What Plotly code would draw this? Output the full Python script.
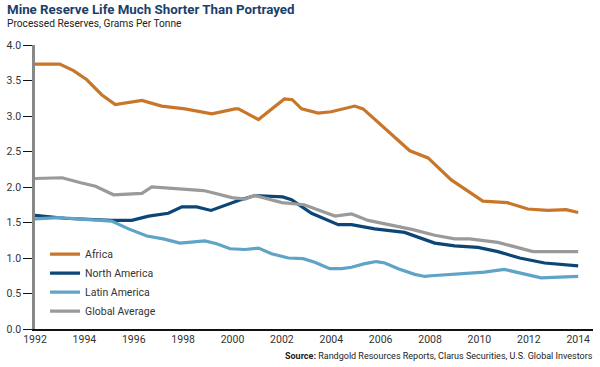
import plotly.graph_objects as go

africa_x = [1992, 1993, 1993.56, 1994.1, 1994.7, 1995.25, 1996.33, 1997.13, 1998.08, 1998.75, 1999.16,
            2000.1, 2000.24, 2001.05, 2002.1, 2002.42, 2002.8, 2003.47, 2004.0, 2004.95, 2005.29,
            2007.18, 2007.92, 2008.86, 2010.14, 2011.13, 2011.96, 2012.77, 2013.51, 2014]
africa_y = [3.73, 3.73, 3.64, 3.51, 3.30, 3.16, 3.22, 3.14, 3.10, 3.05, 3.03,
            3.10, 3.10, 2.95, 3.24, 3.23, 3.10, 3.04, 3.06, 3.14, 3.10,
            2.51, 2.41, 2.10, 1.80, 1.78, 1.69, 1.67, 1.68, 1.64]

na_x = [1992, 1993.2, 1995.1, 1995.92, 1996.6, 1997.4, 1997.95, 1998.55, 1999.13, 1999.6, 2000.24,
        2000.9, 2002.03, 2002.39, 2003.2, 2004.28, 2004.82, 2005.76, 2006.97, 2008.19, 2009.0,
        2009.94, 2010.75, 2011.63, 2012.64, 2014]
na_y = [1.60, 1.56, 1.53, 1.53, 1.59, 1.63, 1.72, 1.72, 1.67, 1.73, 1.81,
        1.88, 1.86, 1.82, 1.63, 1.47, 1.47, 1.41, 1.36, 1.21, 1.17,
        1.15, 1.09, 1.00, 0.93, 0.89]

la_x = [1992, 1992.96, 1995.1, 1995.79, 1996.53, 1997.2, 1997.87, 1998.88, 1999.36, 1999.9, 2000.5,
        2001.05, 2001.58, 2002.26, 2002.86, 2003.33, 2003.94, 2004.42, 2004.82, 2005.36, 2005.83,
        2006.17, 2006.71, 2007.38, 2007.79, 2008.05, 2010.2, 2011.0, 2012.5, 2014]
la_y = [1.55, 1.57, 1.52, 1.41, 1.31, 1.27, 1.21, 1.24, 1.20, 1.13, 1.12,
        1.14, 1.06, 1.00, 0.99, 0.94, 0.85, 0.85, 0.87, 0.92, 0.95,
        0.93, 0.85, 0.77, 0.74, 0.75, 0.80, 0.84, 0.72, 0.74]

ga_x = [1992, 1993.1, 1993.85, 1994.45, 1995.18, 1996.33, 1996.73, 1998.82, 1999.2, 1999.97, 2000.5,
        2000.9, 2002.0, 2002.9, 2004.15, 2004.82, 2005.49, 2006.03, 2007.31, 2008.19, 2009.0,
        2009.6, 2010.75, 2012.17, 2014]
ga_y = [2.12, 2.13, 2.06, 2.01, 1.89, 1.91, 2.00, 1.95, 1.92, 1.85, 1.83,
        1.88, 1.78, 1.75, 1.59, 1.62, 1.53, 1.49, 1.40, 1.32, 1.27,
        1.27, 1.22, 1.09, 1.09]

x_ticks = [1992, 1994, 1996, 1998, 2000, 2002, 2004, 2006, 2008, 2010, 2012, 2014]
y_ticks = [0.0, 0.5, 1.0, 1.5, 2.0, 2.5, 3.0, 3.5, 4.0]

FONT = "Roboto, Arial, sans-serif"

series = [
    ("Africa", africa_x, africa_y, "#c8762a"),
    ("North America", na_x, na_y, "#0c4677"),
    ("Latin America", la_x, la_y, "#5fa3c6"),
    ("Global Average", ga_x, ga_y, "#9a9a9a"),
]

fig = go.Figure()
for name, xs, ys, col in series:
    fig.add_trace(go.Scatter(x=xs, y=ys, name=name, mode="lines",
                             line=dict(color=col, width=3.2)))

fig.update_layout(
    width=600, height=367,
    margin=dict(l=33, r=7, t=45, b=37.5),
    paper_bgcolor="white", plot_bgcolor="white",
    font=dict(family=FONT, size=11, color="#333333"),
    showlegend=True,
    legend=dict(x=0.018, y=0.315, xanchor="left", yanchor="top",
                font=dict(size=10.5, color="#333333"), bgcolor="rgba(0,0,0,0)",
                itemwidth=30, tracegroupgap=0),
    xaxis=dict(range=[1992, 2014.6], tickmode="array", tickvals=x_ticks,
               ticktext=[str(v) for v in x_ticks], showgrid=False, zeroline=False,
               showline=True, linecolor="#111111", linewidth=1.5, ticks="",
               tickfont=dict(size=10.5, color="#333333")),
    yaxis=dict(range=[0, 4], tickmode="array", tickvals=y_ticks,
               ticktext=["%.1f" % v for v in y_ticks], showgrid=False, zeroline=False,
               showline=True, linecolor="#888888", linewidth=2.5, ticks="outside",
               ticklen=9, tickcolor="#111111", tickwidth=1,
               tickfont=dict(size=10.5, color="#333333")),
    annotations=[
        dict(text="<b>Mine Reserve Life Much Shorter Than Portrayed</b>", xref="paper", yref="paper",
             x=-30/560, y=1 + 45/284.5, xanchor="left", yanchor="top", showarrow=False,
             font=dict(size=13.3, color="#1b3f6b", family=FONT), yshift=0),
        dict(text="Processed Reserves, Grams Per Tonne", xref="paper", yref="paper",
             x=-30/560, y=1 + 45/284.5, xanchor="left", yanchor="top", showarrow=False,
             font=dict(size=10.2, color="#222222", family=FONT), yshift=-16),
        dict(text="<b>Source:</b> Randgold Resources Reports, Clarus Securities, U.S. Global Investors",
             xref="paper", yref="paper", x=1.0, y=0, xanchor="right", yanchor="top",
             showarrow=False, font=dict(size=9, color="#222222", family=FONT), yshift=-20,
             xshift=2),
    ],
)

fig.write_html("out.html", config={"displayModeBar": False},
               post_script="document.body.style.margin='0';")
